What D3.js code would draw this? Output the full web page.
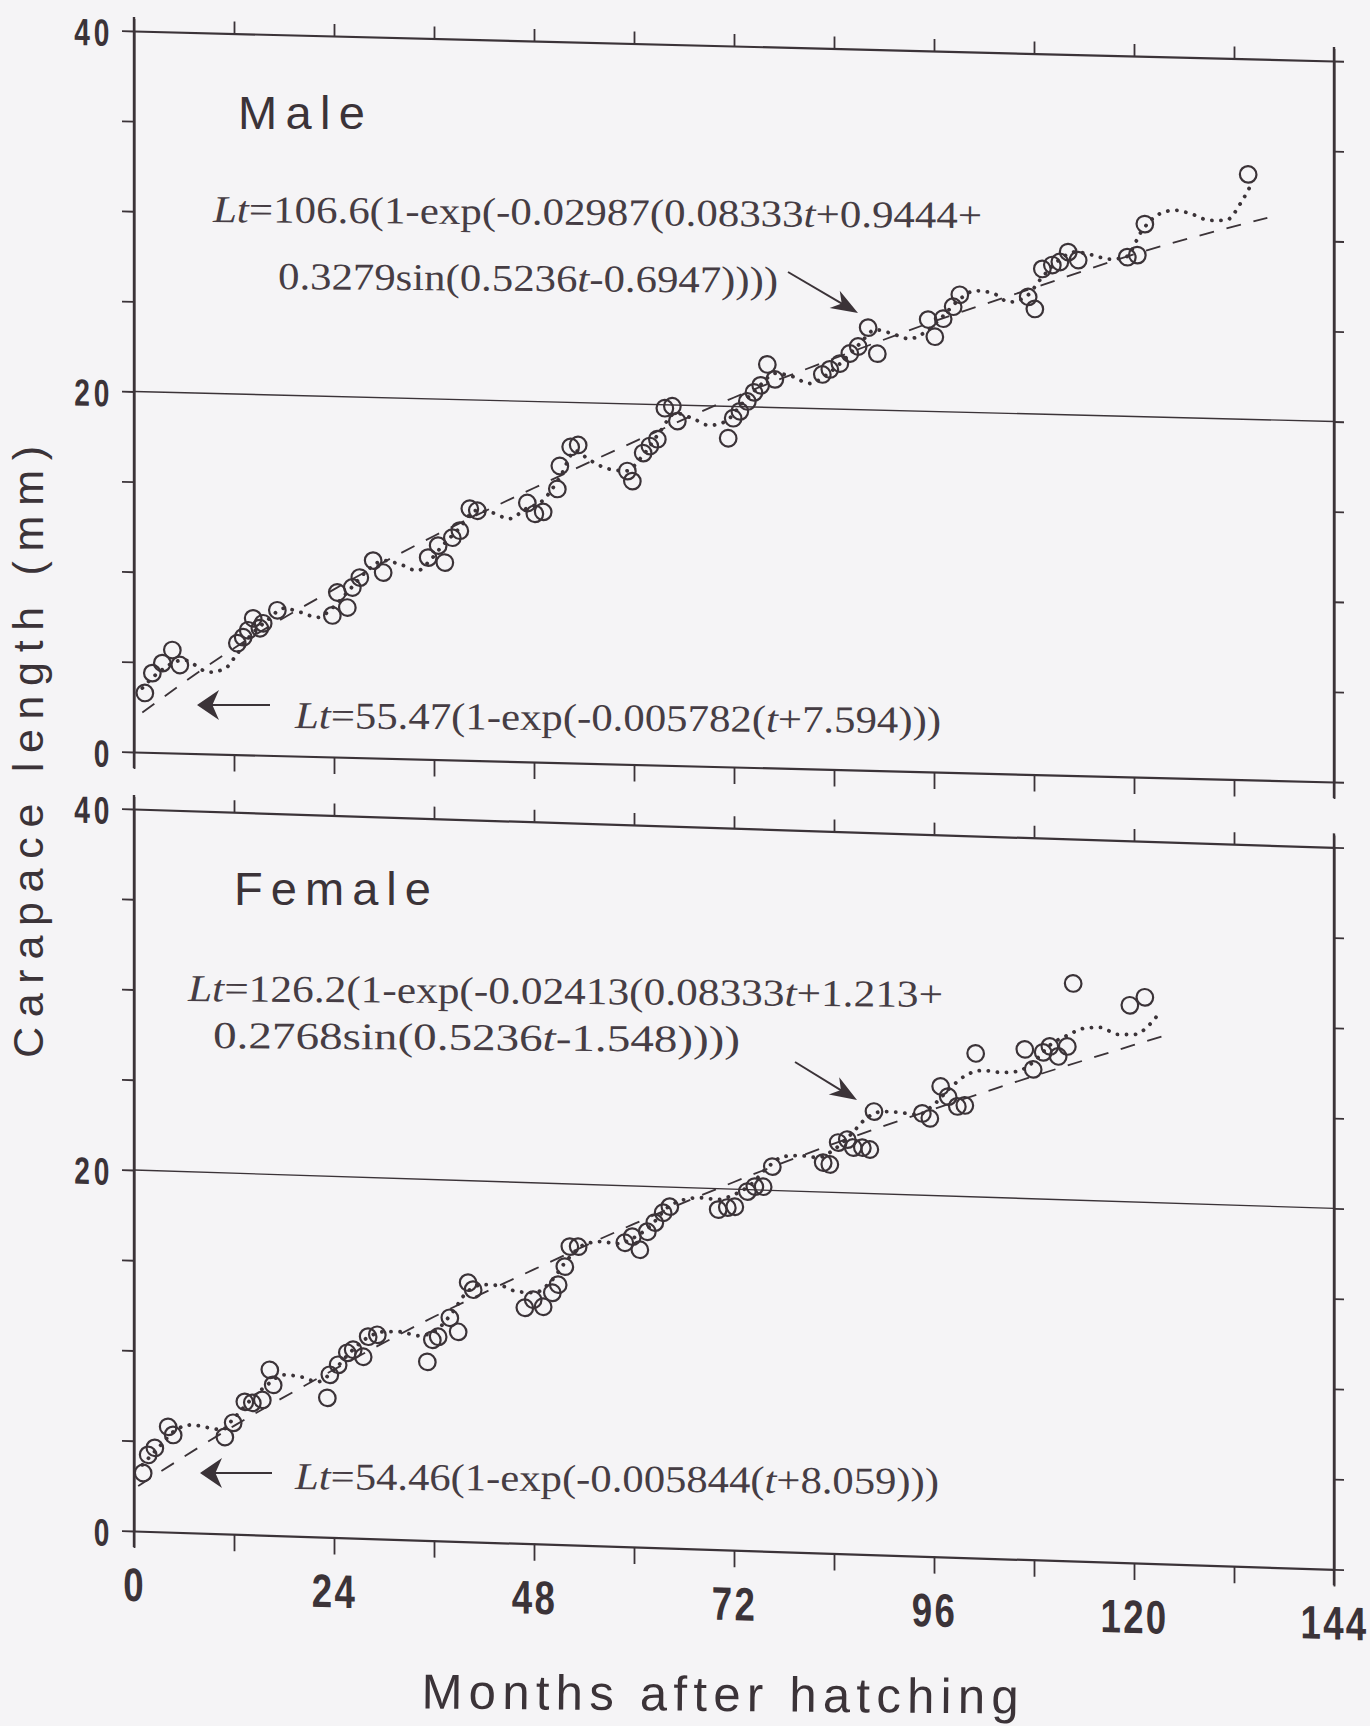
<!DOCTYPE html>
<html>
<head>
<meta charset="utf-8">
<script src="https://cdn.jsdelivr.net/npm/d3@7"></script>
<style>
  html, body { margin: 0; padding: 0; background: #f5f4f6; }
  svg { display: block; }
</style>
</head>
<body>
<div id="chart"></div>
<script>
// ---- data (months after hatching, carapace length mm) ----
const monthTicks = d3.range(0, 145, 12);
const monthLabels = [0, 24, 48, 72, 96, 120, 144];
const lengthTicks = d3.range(0, 41, 5);
const lengthLabels = [0, 20, 40];

const maleMonths = [1.3, 2.2, 3.4, 4.6, 5.5, 12.4, 13.1, 13.7, 14.3, 15.1, 15.5, 17.2,
  23.8, 24.4, 25.6, 26.2, 27.1, 28.7, 29.9, 35.3, 36.5, 37.3, 38.2, 39.1, 40.3, 41.2,
  47.2, 48.1, 49.1, 50.8, 51.1, 52.4, 53.3, 59.2, 59.8, 61.1, 61.9, 62.8, 63.7, 64.6, 65.2,
  71.3, 71.9, 72.7, 73.6, 74.4, 75.2, 76.0, 76.9, 82.6, 83.5, 84.7, 85.9, 86.9, 88.1, 89.2,
  95.3, 96.1, 97.1, 98.3, 99.1, 107.3, 108.1, 109.0, 110.2, 111.1, 112.1, 113.3,
  119.2, 120.4, 121.3, 133.7];
const maleLength = [3.29, 4.40, 4.97, 5.71, 4.89, 6.18, 6.52, 6.91, 7.58, 7.04, 7.32, 8.06,
  7.85, 9.13, 8.31, 9.43, 9.99, 10.95, 10.30, 11.19, 11.87, 10.94, 12.33, 12.73, 13.96, 13.86,
  14.36, 13.77, 13.89, 15.18, 16.46, 17.53, 17.65, 16.27, 15.72, 17.29, 17.69, 18.08, 19.81, 19.93, 19.11,
  18.23, 19.35, 19.74, 20.30, 20.81, 21.21, 22.38, 21.56, 21.90, 22.19, 22.53, 23.10, 23.50, 24.56, 23.13,
  25.09, 24.15, 25.16, 25.84, 26.51, 26.49, 25.83, 28.06, 28.29, 28.47, 29.03, 28.60,
  28.83, 28.96, 30.69, 33.59];

// seasonal growth curve (dotted)
const maleSeasonalMonths = [1, 3, 6, 9, 11, 12, 14, 16, 18, 20, 22, 24, 26, 28, 30, 32, 34, 35.5, 37, 39,
  41, 43, 45, 47, 49, 51, 53, 54.5, 57, 59, 61, 63, 65, 67, 69, 71, 73, 75, 77, 79,
  81, 83, 85, 87, 89, 91, 93, 95, 97, 99, 101, 103, 105, 107, 109, 111, 113, 115, 117, 119,
  121, 123, 125, 127, 129, 131, 133, 134];
const maleSeasonal = [3.56, 4.47, 5.17, 4.53, 4.78, 5.34, 6.64, 7.49, 8.18, 7.98, 7.72, 8.35, 9.37, 10.39, 10.97, 10.77, 10.45, 11.03, 11.87, 12.84,
  13.86, 13.77, 13.46, 14.03, 14.50, 15.74, 17.32, 16.88, 16.36, 16.27, 17.12, 18.42, 19.55, 19.29, 18.92, 19.17, 20.19, 21.15, 21.90, 21.75,
  21.38, 21.85, 22.65, 23.61, 24.46, 24.26, 24.00, 24.41, 25.27, 26.23, 26.76, 26.66, 26.18, 26.48, 27.61, 28.58, 29.05, 28.90, 28.70, 28.83,
  30.35, 31.26, 31.50, 31.30, 30.99, 31.01, 32.14, 32.98];

// von Bertalanffy curve (dashed)
const maleVbMonths = [1, 12, 24, 36, 48, 60, 72, 84, 96, 108, 120, 136];
const maleVb = [2.2, 5.9, 9.3, 12.4, 15.2, 17.9, 20.5, 22.8, 25.0, 27.0, 29.0, 31.2];

const femaleMonths = [1.1, 1.7, 2.5, 4.1, 4.7, 10.9, 11.9, 13.3, 14.2, 15.4, 16.3, 16.7,
  23.2, 23.5, 24.5, 25.6, 26.3, 27.5, 28.1, 29.2, 35.2, 35.8, 36.5, 37.9, 38.9, 40.1, 40.7,
  46.9, 47.9, 49.1, 50.2, 50.9, 51.7, 52.3, 53.3, 58.9, 59.8, 60.7, 61.6, 62.5, 63.5, 64.3,
  70.1, 71.2, 72.1, 73.6, 74.5, 75.5, 76.6, 82.7, 83.5, 84.5, 85.6, 86.3, 87.4, 88.3, 88.8,
  94.6, 95.5, 96.8, 97.7, 98.8, 99.7, 101.0, 106.9, 107.9, 109.1, 109.9, 110.9, 112.0, 112.7,
  119.5, 121.3];
const femaleLength = [3.23, 4.24, 4.64, 5.83, 5.39, 5.37, 6.17, 7.35, 7.31, 7.49, 9.17, 8.34,
  7.72, 9.00, 9.57, 10.25, 10.43, 10.06, 11.18, 11.30, 9.89, 11.12, 11.30, 12.37, 11.61, 14.35, 13.97,
  13.06, 13.52, 13.15, 13.94, 14.40, 15.41, 16.53, 16.54, 16.84, 17.19, 16.48, 17.49, 18.01, 18.57, 18.92,
  18.84, 18.97, 19.03, 19.89, 20.18, 20.19, 21.32, 21.63, 21.54, 22.77, 22.95, 22.52, 22.53, 22.44, 24.55,
  24.53, 24.27, 26.06, 25.51, 24.98, 25.05, 27.95, 28.26, 27.17, 28.13, 28.47, 27.93, 28.50, 32.00,
  30.89, 31.36];

const femaleSeasonalMonths = [1, 3, 5, 7, 9, 10.5, 12, 14, 16, 18, 20, 22, 24, 26, 28, 30, 32, 34, 36, 38,
  40, 42, 44, 46, 48, 50, 52, 54, 56, 58, 60, 62, 64, 66, 68, 70, 72, 74, 76, 78,
  80, 82, 84, 86, 88, 90, 92, 94, 96, 98, 100, 102, 104, 106, 108, 110, 112, 114, 116, 118,
  120, 122, 123];
const femaleSeasonal = [3.68, 4.70, 5.67, 5.98, 5.85, 5.76, 6.44, 7.47, 8.34, 8.92, 8.84, 8.59, 9.28, 10.31, 11.12, 11.48, 11.51, 11.32, 11.57, 12.54,
  13.85, 14.27, 14.24, 13.94, 13.91, 14.55, 15.80, 16.66, 16.86, 16.78, 17.14, 17.83, 18.86, 19.33, 19.47, 19.40, 19.70, 20.28, 21.26, 21.90,
  21.98, 21.90, 22.37, 23.23, 24.21, 24.57, 24.54, 24.46, 25.05, 26.02, 26.77, 27.02, 26.94, 27.03, 27.61, 28.58, 29.11, 29.53, 29.61, 29.26,
  29.28, 29.92, 30.49];

const femaleVbMonths = [0.5, 12, 24, 36, 48, 60, 72, 84, 96, 108, 120, 124.5];
const femaleVb = [2.5, 6.0, 9.3, 12.4, 15.2, 17.9, 20.4, 22.7, 24.8, 26.8, 28.7, 29.4];

const zip = (a, b) => a.map((v, i) => [v, b[i]]);

// ---- layout ----
const width = 1370;
const height = 1726;
const ink = '#3b3338';

const svg = d3.select('#chart')
  .append('svg')
  .attr('width', width)
  .attr('height', height);

svg.append('rect').attr('width', width).attr('height', height).attr('fill', '#f5f4f6');

const x = d3.scaleLinear().domain([0, 144]).range([134, 1334]);

const panels = [
  {
    name: 'Male', skew: 0.025,
    y: d3.scaleLinear().domain([0, 40]).range([752, 31]),
    points: zip(maleMonths, maleLength),
    seasonal: zip(maleSeasonalMonths, maleSeasonal),
    vb: zip(maleVbMonths, maleVb),
    labels: false,
  },
  {
    name: 'Female', skew: 0.032,
    y: d3.scaleLinear().domain([0, 40]).range([1531, 809]),
    points: zip(femaleMonths, femaleLength),
    seasonal: zip(femaleSeasonalMonths, femaleSeasonal),
    vb: zip(femaleVbMonths, femaleVb),
    labels: true,
  },
];

const tickFont = '"Liberation Sans", Arial, sans-serif';

function drawPanel(p) {
  const y = p.y;
  // the scanned page is slightly sheared, keep that look
  const g = svg.append('g')
    .attr('transform', `matrix(1,${p.skew},0,1,0,${-p.skew * x(0)})`);

  // horizontal reference line at 20 mm
  g.append('line')
    .attr('x1', x(0)).attr('x2', x(144))
    .attr('y1', y(20)).attr('y2', y(20))
    .attr('stroke', ink).attr('stroke-width', 1.4);

  // vertical frame lines run a little past the corners
  [0, 144].forEach((m) => {
    g.append('line')
      .attr('x1', x(m)).attr('x2', x(m))
      .attr('y1', y(40) - 14).attr('y2', y(0) + 16)
      .attr('stroke', ink).attr('stroke-width', 2.4);
  });

  g.append('g')
    .attr('transform', `translate(0, ${y(40)})`)
    .call(d3.axisTop(x).tickValues(monthTicks).tickSize(12).tickSizeOuter(0).tickFormat(''));

  const bottom = g.append('g')
    .attr('transform', `translate(0, ${y(0)})`)
    .call(d3.axisBottom(x).tickValues(monthTicks).tickSize(17).tickSizeOuter(0)
      .tickFormat((d) => (p.labels && monthLabels.includes(d) ? d : '')));

  const left = g.append('g')
    .attr('transform', `translate(${x(0)}, 0)`)
    .call(d3.axisLeft(y).tickValues(lengthTicks).tickSize(12).tickSizeOuter(0)
      .tickFormat((d) => (lengthLabels.includes(d) ? d : '')));

  g.append('g')
    .attr('transform', `translate(${x(144)}, 0)`)
    .call(d3.axisRight(y).tickValues(lengthTicks).tickSize(10).tickSizeOuter(0).tickFormat(''));

  g.selectAll('.domain').attr('stroke', ink).attr('stroke-width', 2.2);
  g.selectAll('.tick line').attr('stroke', ink).attr('stroke-width', 1.8);

  left.selectAll('text')
    .attr('fill', ink)
    .attr('font-family', tickFont)
    .attr('font-weight', 'bold')
    .attr('font-size', 38)
    .attr('letter-spacing', 5)
    .attr('dy', 0)
    .attr('y', 15)
    .attr('x', -21 / 0.74)
    .attr('transform', 'scale(0.74,1)');

  bottom.selectAll('text')
    .attr('fill', ink)
    .attr('font-family', tickFont)
    .attr('font-weight', 'bold')
    .attr('font-size', 47)
    .attr('letter-spacing', 3)
    .attr('dy', 0)
    .attr('y', 70)
    .attr('transform', 'scale(0.78,1)');

  const line = d3.line()
    .x((d) => x(d[0]))
    .y((d) => y(d[1]))
    .curve(d3.curveMonotoneX);

  g.append('path')
    .datum(p.vb)
    .attr('d', line)
    .attr('fill', 'none')
    .attr('stroke', ink)
    .attr('stroke-width', 1.8)
    .attr('stroke-dasharray', '15 13');

  g.append('path')
    .datum(p.seasonal)
    .attr('d', line)
    .attr('fill', 'none')
    .attr('stroke', ink)
    .attr('stroke-width', 3.8)
    .attr('stroke-linecap', 'round')
    .attr('stroke-dasharray', '0.1 9');

  g.append('g')
    .selectAll('circle')
    .data(p.points)
    .join('circle')
    .attr('cx', (d) => x(d[0]))
    .attr('cy', (d) => y(d[1]))
    .attr('r', 8.3)
    .attr('fill', 'none')
    .attr('stroke', ink)
    .attr('stroke-width', 2.2);
}

panels.forEach(drawPanel);

// ---- text annotations ----
const sans = '"Liberation Sans", Arial, Helvetica, sans-serif';
const serif = '"Liberation Serif", "Times New Roman", serif';

function title(txt, x0, y0, len) {
  svg.append('text')
    .attr('x', x0).attr('y', y0)
    .attr('font-family', sans).attr('font-size', 47)
    .attr('fill', ink)
    .attr('textLength', len)
    .attr('lengthAdjust', 'spacing')
    .text(txt);
}
title('Male', 238, 129, 127);
title('Female', 234, 905, 197);

function equation(parts, x0, y0, len) {
  const t = svg.append('text')
    .attr('x', x0).attr('y', y0)
    .attr('font-family', serif).attr('font-size', 38)
    .attr('fill', '#463d44')
    .attr('textLength', len)
    .attr('lengthAdjust', 'spacingAndGlyphs')
    .attr('transform', `rotate(0.45, ${x0}, ${y0})`);
  parts.forEach(([s, it]) => {
    t.append('tspan').attr('font-style', it ? 'italic' : 'normal').text(s);
  });
}

equation([['Lt', 1], ['=106.6(1-exp(-0.02987(0.08333', 0], ['t', 1], ['+0.9444+', 0]], 213, 222, 769);
equation([['0.3279sin(0.5236', 0], ['t', 1], ['-0.6947))))', 0]], 278, 289, 500);
equation([['Lt', 1], ['=55.47(1-exp(-0.005782(', 0], ['t', 1], ['+7.594)))', 0]], 295, 728, 646);
equation([['Lt', 1], ['=126.2(1-exp(-0.02413(0.08333', 0], ['t', 1], ['+1.213+', 0]], 188, 1001, 755);
equation([['0.2768sin(0.5236', 0], ['t', 1], ['-1.548))))', 0]], 213, 1048, 527);
equation([['Lt', 1], ['=54.46(1-exp(-0.005844(', 0], ['t', 1], ['+8.059)))', 0]], 295, 1489, 644);

function arrow(x1, y1, x2, y2, len, half) {
  const a = Math.atan2(y2 - y1, x2 - x1);
  const deg = (a * 180) / Math.PI;
  const L = Math.hypot(x2 - x1, y2 - y1);
  const g = svg.append('g').attr('transform', `translate(${x1},${y1}) rotate(${deg})`);
  g.append('line')
    .attr('x1', 0).attr('y1', 0).attr('x2', L - len * 0.6).attr('y2', 0)
    .attr('stroke', ink).attr('stroke-width', 2);
  g.append('path')
    .attr('d', `M${L},0 L${L - len},${-half} L${L - len * 0.7},0 L${L - len},${half} Z`)
    .attr('fill', ink);
}
arrow(788, 272, 858, 313, 27, 10);
arrow(795, 1062, 857, 1100, 27, 10);
arrow(270, 705, 197, 705, 22, 15);
arrow(272, 1473, 200, 1473, 22, 15);

// axis titles
svg.append('text')
  .attr('transform', 'translate(43, 752) rotate(-90)')
  .attr('text-anchor', 'middle')
  .attr('font-family', sans).attr('font-size', 43)
  .attr('fill', ink)
  .attr('textLength', 612)
  .attr('lengthAdjust', 'spacing')
  .text('Carapace length (mm)');

svg.append('text')
  .attr('x', 720).attr('y', 1711)
  .attr('text-anchor', 'middle')
  .attr('font-family', sans).attr('font-size', 49)
  .attr('fill', ink)
  .attr('textLength', 597)
  .attr('lengthAdjust', 'spacing')
  .attr('transform', 'rotate(0.5, 720, 1711)')
  .text('Months after hatching');
</script>
</body>
</html>
